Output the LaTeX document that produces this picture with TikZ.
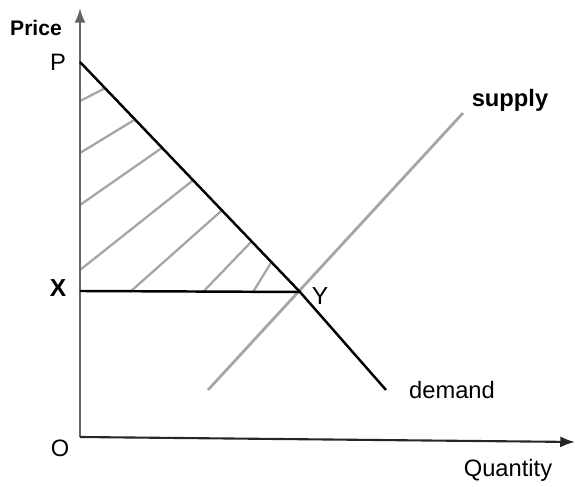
\documentclass[tikz,border=0pt]{standalone}
\usepackage{fontspec}
\setmainfont{Liberation Sans}
\usepackage{tikz}
\usetikzlibrary{arrows.meta, positioning, calc}

\begin{document}
\begin{tikzpicture}[
  font=\fontsize{13.5}{15}\selectfont,
  >=Latex,
  axis/.style={->, line width=1.2pt, black!85},
  curve/.style={line width=1.4pt, #1},
  hatch/.style={line width=1.3pt, gray!70}
]
\useasboundingbox (-1.6,-1.0) rectangle (9.9,8.74);

% Points
\coordinate (O) at (0,0);
\coordinate (P) at (0,7.5);
\coordinate (X) at (0,2.92);
\coordinate (Y) at (4.4,2.9);
\coordinate (dEnd) at (6.12,0.94);
\coordinate (sBeg) at (2.56,0.94);
\coordinate (sEnd) at (7.66,6.48);

% Hatched surplus triangle
\foreach \ya/\t in {6.72/0.114, 5.68/0.25, 4.64/0.373, 3.34/0.514}
  \draw[hatch] (0,\ya) -- ($(P)!\t!(Y)$);
\foreach \xa/\t in {1.0/0.645, 2.46/0.78, 3.46/0.87}
  \draw[hatch] (\xa,2.9) -- ($(P)!\t!(Y)$);

% Axes
\draw[axis, gray!80!black] (O) -- (0,8.58);
\draw[axis] (O) -- (9.9,-0.1);

% Supply and demand
\draw[curve=gray!70, line width=1.6pt] (sBeg) -- (sEnd);
\draw[curve=black] (P) -- (Y) -- (dEnd);
\draw[curve=black] (X) -- (Y);

% Labels
\node[font=\fontsize{12}{14}\selectfont\bfseries] (price) at (-0.88,8.18) {Price};
\node (lP) at (-0.44,7.5) {P};
\node[font=\fontsize{14}{16}\selectfont\bfseries] (lX) at (-0.44,2.98) {X};
\node[font=\fontsize{14}{16}\selectfont] (lY) at (4.8,2.82) {Y};
\node (lO) at (-0.4,-0.22) {O};
\node[font=\fontsize{13.5}{15}\selectfont\bfseries] (supply) at (8.6,6.74) {supply};
\node (demand) at (7.44,0.94) {demand};
\node (quantity) at (8.56,-0.66) {Quantity};

\end{tikzpicture}
\end{document}
